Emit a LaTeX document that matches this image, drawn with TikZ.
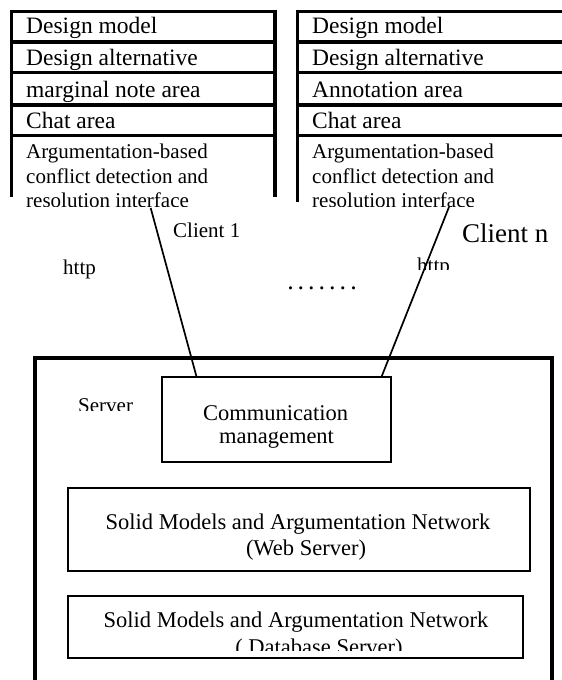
\documentclass[tikz,border=0pt]{standalone}
\usepackage{fontspec}
\setmainfont{Liberation Serif}
\usetikzlibrary{calc}
\begin{document}
\begin{tikzpicture}[x=1pt,y=-1pt,
  panel/.style={line width=3.4pt},
  conn/.style={line width=1.7pt},
  box/.style={draw,line width=2pt,inner sep=0pt},
  rowtxt/.style={inner sep=0pt,anchor=base west,font=\fontsize{23.5}{27}\selectfont},
  ifctxt/.style={inner sep=0pt,anchor=base west,font=\fontsize{21}{25}\selectfont},
  midtxt/.style={inner sep=0pt,anchor=base west,font=\fontsize{21}{25}\selectfont},
  boxtxt/.style={inner sep=0pt,anchor=base,font=\fontsize{22.5}{26}\selectfont}]
\useasboundingbox (0,0) rectangle (562,680);
\clip (0,0) rectangle (562,680);
% left client panel
\foreach \yy in {11.5,42,72.5,105,135.5} \draw[panel] (9.8,\yy) -- (276.7,\yy);
\draw[panel] (11.5,10) -- (11.5,197);
\draw[panel] (275,10) -- (275,197);
% right client panel
\foreach \yy in {11.5,42,72.5,105,135.5} \draw[panel] (295.8,\yy) -- (570,\yy);
\draw[panel] (297.5,10) -- (297.5,202);
% left texts
\node[rowtxt] (l1) at (26,34) {Design model};
\node[rowtxt] (l2) at (26,65) {Design alternative};
\node[rowtxt] (l3) at (26,97) {marginal note area};
\node[rowtxt] (l4) at (26,128) {Chat area};
\node[ifctxt] (l5) at (26,158) {Argumentation-based};
\node[ifctxt] (l6) at (26,183) {conflict detection and};
% right texts
\node[rowtxt] (r1) at (312,34) {Design model};
\node[rowtxt] (r2) at (312,65) {Design alternative};
\node[rowtxt] (r3) at (312,97) {Annotation area};
\node[rowtxt] (r4) at (312,128) {Chat area};
\node[ifctxt] (r5) at (312,158) {Argumentation-based};
\node[ifctxt] (r6) at (312,183) {conflict detection and};
\begin{scope}
\clip (0,0) rectangle (562,206);
\node[ifctxt] (l7) at (26,207) {resolution interface};
\node[ifctxt] (r7) at (312,207) {resolution interface};
\end{scope}
% middle labels
\node[midtxt] (client1) at (173,237) {Client 1};
\node[inner sep=0pt,anchor=base west,font=\fontsize{27}{30}\selectfont] (clientn) at (462,242) {Client n};
\node[midtxt] (http1) at (63,274) {http};
\begin{scope}
\clip (0,0) rectangle (562,269.5);
\node[midtxt] (http2) at (417,272) {http};
\end{scope}
\node[inner sep=0pt,anchor=base,font=\fontsize{26}{30}\selectfont] (dots) at (322,289.5) {.\hspace{4pt}.\hspace{4pt}.\hspace{4pt}.\hspace{4pt}.\hspace{4pt}.\hspace{4pt}.};
% server
\draw[line width=3.5pt] (35,700) -- (35,358) -- (552,358) -- (552,700);
\begin{scope}
\clip (0,0) rectangle (562,410);
\node[midtxt] (server) at (78,412) {Server};
\end{scope}
\node[box,minimum width=229pt,minimum height=85pt] (comm) at (276.5,419.5) {};
\node[boxtxt] (comm1) at (275.5,420) {Communication};
\node[boxtxt] (comm2) at (276.5,443) {management};
\node[box,minimum width=462pt,minimum height=83pt] (web) at (299,529.5) {};
\node[boxtxt] (web1) at (298,529) {Solid Models and Argumentation Network};
\node[boxtxt] (web2) at (306,555) {(Web Server)};
\node[box,minimum width=455pt,minimum height=62pt] (db) at (295.5,627) {};
\node[boxtxt] (db1) at (296,627) {Solid Models and Argumentation Network};
\begin{scope}
\clip (0,0) rectangle (562,650);
\node[boxtxt] (db2) at (319,654) {( Database Server)};
\end{scope}
% connectors
\coordinate (c1) at (150.7,208);
\coordinate (cn) at (449,207);
\draw[conn] (c1) -- ($(comm.north west)!0.153!(comm.north east)$);
\draw[conn] (cn) -- ($(comm.north west)!0.956!(comm.north east)$);
\end{tikzpicture}
\end{document}
